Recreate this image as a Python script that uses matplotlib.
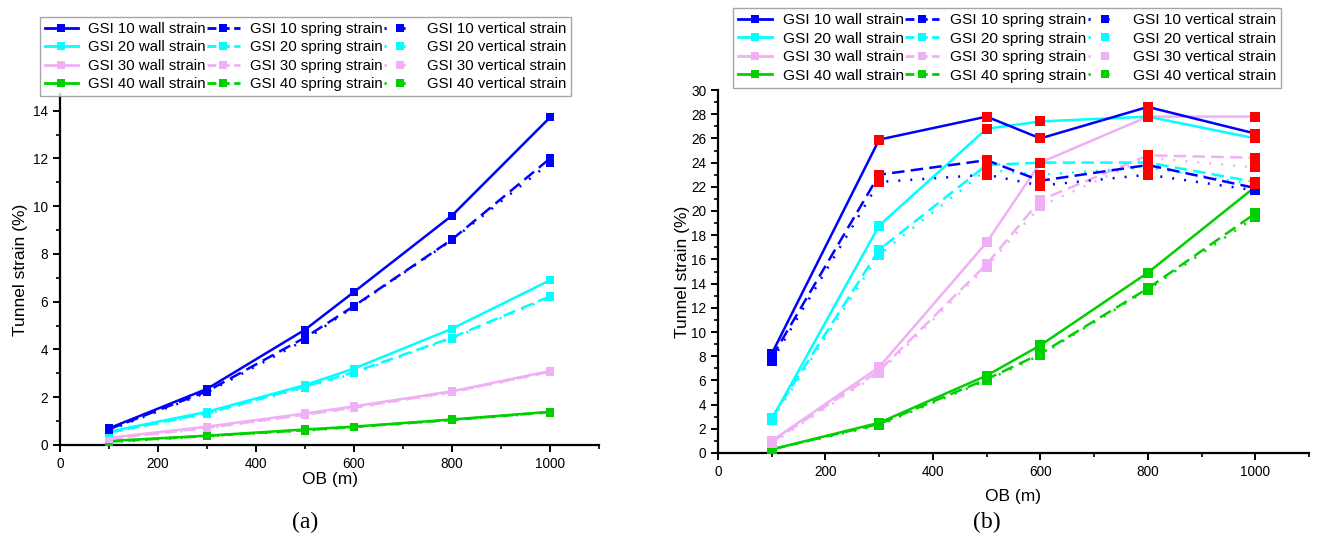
import matplotlib
matplotlib.use("Agg")
import matplotlib.pyplot as plt
from matplotlib.ticker import MultipleLocator
from matplotlib.lines import Line2D

plt.rcParams['font.family'] = ['Liberation Sans', 'DejaVu Sans']

# ---------------- data ----------------
ob = [100, 300, 500, 600, 800, 1000]
gsi_names = ['GSI 10', 'GSI 20', 'GSI 30', 'GSI 40']
kinds = ['wall strain', 'spring strain', 'vertical strain']

# panel (a): rows = GSI 10, 20, 30, 40
a_wall = [
    [0.70, 2.35, 4.83, 6.41, 9.61, 13.72],
    [0.56, 1.39, 2.51, 3.20, 4.87, 6.90],
    [0.30, 0.77, 1.32, 1.62, 2.25, 3.10],
    [0.17, 0.39, 0.65, 0.77, 1.07, 1.39],
]
a_spring = [
    [0.66, 2.25, 4.50, 5.82, 8.61, 12.00],
    [0.52, 1.33, 2.45, 3.05, 4.50, 6.23],
    [0.26, 0.72, 1.27, 1.57, 2.22, 3.07],
    [0.14, 0.38, 0.62, 0.76, 1.05, 1.38],
]
a_vertical = [
    [0.62, 2.20, 4.40, 5.80, 8.58, 11.82],
    [0.50, 1.30, 2.40, 3.00, 4.46, 6.18],
    [0.25, 0.70, 1.25, 1.55, 2.20, 3.05],
    [0.12, 0.37, 0.60, 0.75, 1.04, 1.36],
]

# panel (b)
b_wall = [
    [8.2, 25.9, 27.8, 26.0, 28.6, 26.4],
    [2.8, 18.8, 26.8, 27.4, 27.8, 26.0],
    [1.0, 7.1, 17.4, 24.0, 27.8, 27.8],
    [0.3, 2.5, 6.4, 8.9, 14.9, 22.0],
]
b_spring = [
    [7.9, 23.0, 24.2, 22.5, 23.8, 21.9],
    [2.9, 16.8, 23.8, 24.0, 24.0, 22.4],
    [0.9, 6.8, 15.6, 20.9, 24.6, 24.4],
    [0.3, 2.4, 6.1, 8.2, 13.6, 19.8],
]
b_vertical = [
    [7.6, 22.4, 23.0, 22.1, 23.0, 21.7],
    [2.7, 16.4, 23.4, 23.0, 23.6, 22.2],
    [0.8, 6.6, 15.4, 20.4, 24.4, 23.6],
    [0.3, 2.3, 6.0, 8.1, 13.5, 19.5],
]
b_red_threshold = 22.0

# ---------------- style ----------------
colors = ['#0000FF', '#00FFFF', '#F0B0F5', '#00D000']
styles = ['-', (0, (5, 2.5)), (0, (0.8, 4))]
leg_styles = ['-', (0, (3.2, 1.6)), (0, (0.8, 6))]
W, H = 1322, 540

fig = plt.figure(figsize=(W / 100, H / 100), dpi=100)


def fx(px):
    return px / W


def fy(py):
    return 1 - py / H


ax_a = fig.add_axes([fx(60), fy(445), fx(539), (445 - 94) / H])
ax_b = fig.add_axes([fx(718), fy(453), fx(591), (453 - 90) / H])


def draw(ax, wall, spring, vertical, ms, red=None):
    handles = []
    for kind_i, series in enumerate([wall, spring, vertical]):
        for g in range(4):
            ax.plot(ob, series[g], color=colors[g], linestyle=styles[kind_i],
                    linewidth=1.8, marker='s', markersize=ms,
                    markeredgewidth=0, zorder=3 + (3 - g) * 0.1)
            handles.append(Line2D([], [], color=colors[g], linestyle=leg_styles[kind_i],
                                  linewidth=2.0, marker='s', markersize=5.5,
                                  markeredgewidth=0))
            if red is not None:
                xs = [x for x, v in zip(ob, series[g]) if v > red]
                vs = [v for v in series[g] if v > red]
                ax.plot(xs, vs, linestyle='none', marker='s', markersize=ms,
                        color='#FF0000', markeredgewidth=0, zorder=10)
    return handles


handles_a = draw(ax_a, a_wall, a_spring, a_vertical, 5.5)
handles_b = draw(ax_b, b_wall, b_spring, b_vertical, 6.5, red=b_red_threshold)
labels = [f'{g} {k}' for k in kinds for g in gsi_names]

for ax, ylim in [(ax_a, (0, 14.7)), (ax_b, (0, 30))]:
    ax.set_xlim(0, 1100)
    ax.set_ylim(*ylim)
    ax.xaxis.set_major_locator(MultipleLocator(200))
    ax.xaxis.set_minor_locator(MultipleLocator(100))
    ax.yaxis.set_major_locator(MultipleLocator(2))
    ax.yaxis.set_minor_locator(MultipleLocator(1))
    for s in ['top', 'right']:
        ax.spines[s].set_visible(False)
    for s in ['left', 'bottom']:
        ax.spines[s].set_linewidth(1.6)
    ax.tick_params(which='major', direction='out', length=5, width=1.4, labelsize=9.8)
    ax.tick_params(which='minor', direction='out', length=3, width=1.2)

ax_a.set_xlabel('OB (m)', fontsize=12.5, labelpad=1)
ax_a.set_ylabel('Tunnel strain (%)', fontsize=12.5, labelpad=4)
ax_b.set_xlabel('OB (m)', fontsize=12.5, labelpad=7)
ax_b.set_ylabel('Tunnel strain (%)', fontsize=12.5, labelpad=1)

leg_kw = dict(ncol=3, loc='upper left', bbox_transform=fig.transFigure,
              frameon=True, fancybox=False, borderaxespad=0,
              borderpad=0.32, labelspacing=0.3, handlelength=2.2,
              handletextpad=0.7, numpoints=1)
leg_a = ax_a.legend(handles_a, labels, bbox_to_anchor=(fx(40), fy(17)),
                    fontsize=10.8, columnspacing=0.05, **leg_kw)
leg_b = ax_b.legend(handles_b, labels, bbox_to_anchor=(fx(733), fy(8)),
                    fontsize=11.1, columnspacing=0.1, **leg_kw)
for leg in (leg_a, leg_b):
    leg.get_frame().set_edgecolor('#909090')
    leg.get_frame().set_linewidth(1.0)
    leg.set_zorder(20)

fig.text(fx(305), fy(522), '(a)', ha='center', va='center', fontsize=17,
         family=['Liberation Serif', 'DejaVu Serif'])
fig.text(fx(987), fy(522), '(b)', ha='center', va='center', fontsize=17,
         family=['Liberation Serif', 'DejaVu Serif'])

fig.savefig('out.png', dpi=100)
